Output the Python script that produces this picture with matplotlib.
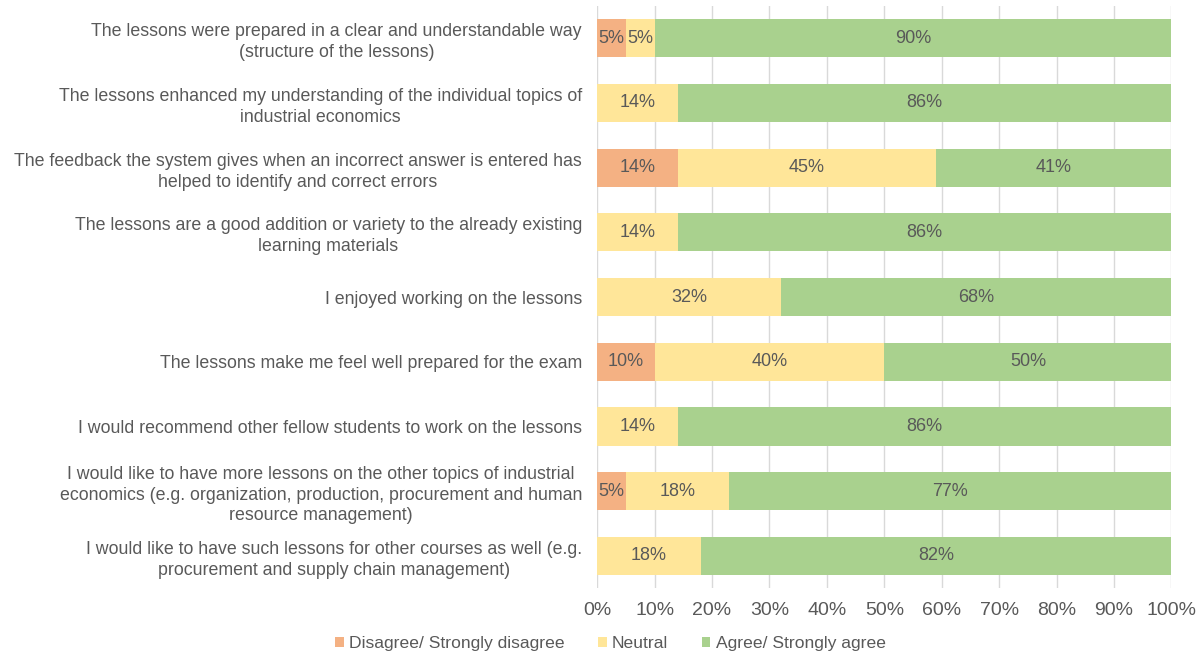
import matplotlib
matplotlib.use("Agg")
import matplotlib.pyplot as plt
import numpy as np

plt.rcParams['font.family'] = ['Liberation Sans', 'DejaVu Sans']

statements = [
    "The lessons were prepared in a clear and understandable way\n(structure of the lessons)",
    "The lessons enhanced my understanding of the individual topics of\nindustrial economics",
    "The feedback the system gives when an incorrect answer is entered has\nhelped to identify and correct errors",
    "The lessons are a good addition or variety to the already existing\nlearning materials",
    "I enjoyed working on the lessons",
    "The lessons make me feel well prepared for the exam",
    "I would recommend other fellow students to work on the lessons",
    "I would like to have more lessons on the other topics of industrial\neconomics (e.g. organization, production, procurement and human\nresource management)",
    "I would like to have such lessons for other courses as well (e.g.\nprocurement and supply chain management)",
]
disagree = [5, 0, 14, 0, 0, 10, 0, 5, 0]
neutral = [5, 14, 45, 14, 32, 40, 14, 18, 18]
agree = [90, 86, 41, 86, 68, 50, 86, 77, 82]

series_names = ["Disagree/ Strongly disagree", "Neutral", "Agree/ Strongly agree"]
colors = ["#F4B183", "#FFE699", "#A9D18E"]
text_color = "#595959"

fig = plt.figure(figsize=(12.04, 6.55), dpi=100)
ax = fig.add_axes([0.496, 0.102, 0.477, 0.889])

y = np.arange(len(statements))
left = np.zeros(len(statements))
for vals, name, col in zip([disagree, neutral, agree], series_names, colors):
    vals = np.array(vals, dtype=float)
    ax.barh(y, vals, left=left, height=0.59, color=col, label=name, zorder=2)
    for yi, l, v in zip(y, left, vals):
        if v > 0:
            ax.text(l + v / 2, yi, f"{v:.0f}%", ha="center", va="center",
                    fontsize=13, color=text_color, zorder=3)
    left += vals

ax.set_xlim(0, 100)
ax.set_ylim(len(statements) - 0.5, -0.5)
ax.set_xticks(np.arange(0, 101, 10))
ax.set_xticklabels([f"{t}%" for t in range(0, 101, 10)], fontsize=14, color=text_color)
ax.set_yticks(y)
ax.set_yticklabels(statements, fontsize=12.8, color=text_color,
                   multialignment="center", linespacing=1.3)
ax.tick_params(axis="both", length=0)
ax.tick_params(axis="y", pad=11)
ax.tick_params(axis="x", pad=10)
ax.grid(axis="x", color="#D9D9D9", linewidth=1, zorder=0)
for s in ax.spines.values():
    s.set_visible(False)

fig.legend(loc="lower center", bbox_to_anchor=(0.507, -0.018), ncol=3, frameon=False,
           fontsize=12.6, handlelength=0.5, handleheight=0.5, handletextpad=0.3,
           columnspacing=1.9, labelcolor=text_color)

fig.savefig("out.png", dpi=100, facecolor="white")
